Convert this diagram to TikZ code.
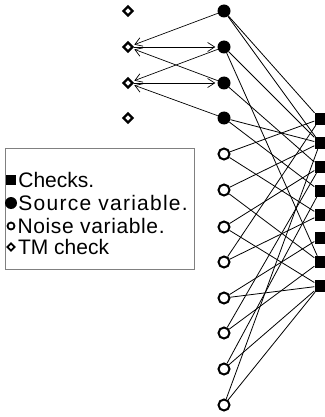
\documentclass[tikz,border=0pt]{standalone}
\usepackage{fontspec}
\setmainfont{Liberation Sans}
\usetikzlibrary{positioning,shapes.geometric,arrows.meta}

\begin{document}
\begin{tikzpicture}[x=1pt,y=-1pt,
    src/.style={circle,fill=black,inner sep=0pt,minimum size=13pt},
    noise/.style={circle,draw=black,line width=2pt,fill=white,inner sep=0pt,minimum size=11pt},
    chk/.style={rectangle,fill=black,inner sep=0pt,minimum width=11pt,minimum height=12pt},
    tm/.style={diamond,draw=black,line width=2.2pt,fill=white,inner sep=0pt,minimum size=10pt},
    edge/.style={line width=0.8pt},
    tmarrow/.style={-{Straight Barb[length=7pt,width=9pt]},line width=0.7pt,shorten >=2pt},
    lgtext/.style={inner sep=0pt,font=\fontsize{21}{23}\selectfont,anchor=west}]
  \useasboundingbox (0,0) rectangle (324,417);
  % variables and checks
  \foreach \i/\y in {1/11,2/47,3/83,4/118}{
    \node[tm] (d\i) at (128,\y) {};%TM checks
    \node[src] (s\i) at (224,\y) {};%source variables
  }
  \foreach \i/\y in {1/154,2/190,3/227,4/262,5/298,6/333,7/369,8/405}
    \node[noise] (n\i) at (224,\y) {};%noise variables
  \foreach \i/\y in {1/119,2/143,3/167,4/191,5/215,6/238,7/262,8/286}
    \node[chk] (c\i) at (320,\y) {};%checks
  % graph edges
  \foreach \a/\b in {s1/c1,s1/c2,s2/c2,s2/c7,s3/c3,s4/c2,s4/c4,
      n1/c1,n1/c5,n2/c2,n2/c7,n3/c3,n3/c8,n4/c5,n4/c1,n5/c8,n5/c6,
      n6/c7,n6/c3,n7/c8,n7/c4,n8/c8,n8/c2}
    \draw[edge] (\a) -- (\b);
  % TM links
  \draw[tmarrow] (s1) -- (d2);
  \draw[tmarrow] (d2) -- (s2);
  \draw[tmarrow] (s3) -- (d2);
  \draw[tmarrow] (s2) -- (d3);
  \draw[tmarrow] (d3) -- (s3);
  \draw[tmarrow] (s4) -- (d3);
  % legend
  \node[draw=gray,line width=0.8pt,anchor=north west,minimum width=189pt,minimum height=121pt,inner sep=0pt] (legend) at (5,148) {};
  \node[chk,minimum width=10pt,minimum height=10pt] (lc) at (11,180) {};
  \node[src,minimum size=12pt] (ls) at (11,203) {};
  \node[noise,minimum size=7pt,line width=1.8pt] (ln) at (11,226) {};
  \node[tm,minimum size=8pt,line width=1.8pt] (lt) at (11,247) {};
  \node[lgtext,right=2pt of lc] (lct) {Checks.};
  \node[lgtext,right=1pt of ls] (lst) {\addfontfeature{LetterSpace=6}Source variable.};
  \node[lgtext,right=2pt of ln] (lnt) {\addfontfeature{LetterSpace=3}Noise variable.};
  \node[lgtext,right=2pt of lt] (ltt) {TM check};
\end{tikzpicture}
\end{document}
